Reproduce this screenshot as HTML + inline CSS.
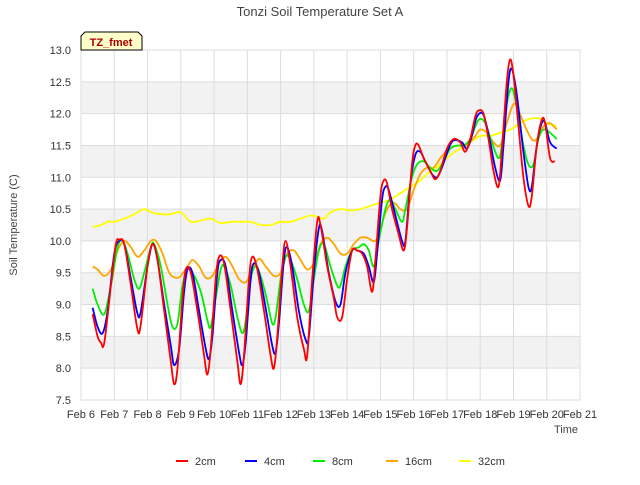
<!DOCTYPE html>
<html><head><meta charset="utf-8"><style>
body{margin:0;background:#fff;font-family:"Liberation Sans",sans-serif}
</style></head><body>
<svg id="c" width="640" height="480" xmlns="http://www.w3.org/2000/svg" font-family="Liberation Sans, sans-serif">
<text x="320" y="16" text-anchor="middle" font-size="13" fill="#444">Tonzi Soil Temperature Set A</text>
<g id="grid"></g><g id="axes"></g><g id="series"></g>
<text transform="translate(17,225) rotate(-90)" text-anchor="middle" font-size="11" fill="#444">Soil Temperature (C)</text>
<text x="578" y="433" text-anchor="end" font-size="11" fill="#444">Time</text>
<g><path d="M81,50 L81,36 L85,32 L138,32 L142,36 L142,50 Z" fill="#ffffcc" stroke="#000" stroke-width="1"/><text x="111" y="46" text-anchor="middle" font-size="11" font-weight="bold" fill="#a00">TZ_fmet</text></g>
<g id="legend"></g>
</svg>
<script>
const yTicks=[7.5,8.0,8.5,9.0,9.5,10.0,10.5,11.0,11.5,12.0,12.5,13.0];
const xTickLabels=["Feb 6","Feb 7","Feb 8","Feb 9","Feb 10","Feb 11","Feb 12","Feb 13","Feb 14","Feb 15","Feb 16","Feb 17","Feb 18","Feb 19","Feb 20","Feb 21"];
const seriesNames=["2cm","4cm","8cm","16cm","32cm"];
const t2=[6.35,6.5,6.6,6.7,6.9,7.05,7.15,7.3,7.5,7.7,7.8,8.0,8.15,8.3,8.5,8.7,8.8,8.9,9.05,9.15,9.3,9.5,9.7,9.8,9.9,10.05,10.15,10.3,10.5,10.7,10.8,10.9,11.05,11.15,11.3,11.5,11.7,11.8,11.9,12.05,12.15,12.3,12.5,12.7,12.8,12.95,13.1,13.2,13.4,13.6,13.7,13.85,14.0,14.15,14.3,14.45,14.6,14.75,14.85,15.0,15.1,15.2,15.35,15.55,15.7,15.8,15.95,16.05,16.15,16.3,16.5,16.65,16.8,17.0,17.2,17.4,17.55,17.7,17.85,17.95,18.1,18.25,18.4,18.55,18.65,18.8,18.9,19.0,19.15,19.3,19.45,19.55,19.7,19.85,19.95,20.1,20.25];
const v2=[8.85,8.5,8.4,8.4,9.3,9.95,10.02,9.95,9.3,8.6,8.7,9.6,9.95,9.7,8.9,8.1,7.75,8.0,9.1,9.55,9.5,8.9,8.2,7.9,8.3,9.4,9.75,9.65,8.9,8.1,7.75,8.2,9.4,9.75,9.55,8.9,8.2,8.0,8.5,9.6,10.0,9.6,8.8,8.3,8.2,9.4,10.3,10.25,9.6,9.1,8.8,8.8,9.4,9.85,9.85,9.8,9.6,9.2,9.7,10.7,10.95,10.9,10.5,10.1,9.85,10.2,11.2,11.5,11.5,11.3,11.1,10.97,11.1,11.45,11.6,11.55,11.4,11.6,11.95,12.05,12.0,11.6,11.1,10.85,11.4,12.5,12.85,12.6,11.8,11.0,10.55,10.7,11.5,11.9,11.85,11.3,11.25];
const t4=[6.35,6.5,6.65,6.8,7.0,7.15,7.3,7.5,7.7,7.8,8.0,8.15,8.3,8.5,8.7,8.8,8.95,9.1,9.2,9.35,9.55,9.75,9.85,9.95,10.1,10.2,10.35,10.55,10.75,10.85,10.95,11.1,11.2,11.35,11.55,11.75,11.85,11.95,12.1,12.2,12.35,12.55,12.75,12.85,13.0,13.15,13.25,13.45,13.65,13.8,13.95,14.15,14.3,14.5,14.65,14.8,14.9,15.05,15.15,15.25,15.45,15.65,15.75,15.9,16.05,16.2,16.35,16.55,16.7,16.85,17.05,17.2,17.45,17.6,17.75,17.9,18.1,18.3,18.45,18.6,18.7,18.85,18.95,19.1,19.3,19.45,19.55,19.7,19.85,19.95,20.1,20.3];
const v4=[8.95,8.65,8.55,8.9,9.8,10.0,9.95,9.4,8.85,8.9,9.6,9.95,9.7,9.0,8.35,8.05,8.3,9.2,9.55,9.5,8.9,8.3,8.15,8.5,9.5,9.7,9.6,8.9,8.25,8.05,8.4,9.4,9.65,9.5,8.95,8.35,8.25,8.7,9.7,9.9,9.6,8.9,8.45,8.5,9.5,10.2,10.15,9.5,9.05,9.0,9.5,9.85,9.85,9.8,9.6,9.35,9.8,10.65,10.85,10.8,10.4,10.0,10.0,10.9,11.35,11.4,11.25,11.05,11.0,11.15,11.45,11.58,11.55,11.45,11.65,11.95,11.98,11.55,11.15,10.95,11.5,12.5,12.7,12.3,11.4,10.85,10.85,11.5,11.85,11.85,11.55,11.45];
const t8=[6.35,6.5,6.7,6.9,7.1,7.25,7.4,7.6,7.75,7.9,8.1,8.2,8.4,8.6,8.75,8.9,9.05,9.2,9.35,9.6,9.8,9.9,10.05,10.2,10.3,10.5,10.7,10.85,10.95,11.1,11.25,11.4,11.6,11.75,11.85,12.0,12.15,12.3,12.5,12.7,12.85,13.0,13.15,13.3,13.5,13.7,13.8,13.95,14.15,14.35,14.5,14.65,14.8,14.95,15.15,15.3,15.45,15.65,15.75,15.95,16.1,16.3,16.5,16.7,16.9,17.1,17.3,17.5,17.7,17.95,18.15,18.35,18.55,18.65,18.8,18.95,19.1,19.3,19.45,19.6,19.75,19.9,20.1,20.3];
const v8=[9.25,9.0,8.85,9.3,9.9,10.0,9.8,9.4,9.25,9.5,9.9,9.95,9.6,9.0,8.65,8.7,9.3,9.55,9.5,9.2,8.75,8.65,9.1,9.55,9.6,9.3,8.8,8.55,8.75,9.4,9.6,9.45,9.05,8.7,8.8,9.4,9.75,9.7,9.4,9.0,8.9,9.4,9.85,9.95,9.6,9.3,9.3,9.6,9.85,9.9,9.95,9.85,9.6,10.0,10.5,10.65,10.5,10.3,10.5,11.0,11.2,11.25,11.15,11.1,11.25,11.45,11.5,11.5,11.6,11.9,11.85,11.55,11.3,11.5,12.15,12.4,12.1,11.5,11.2,11.2,11.6,11.75,11.7,11.6];
const t16=[6.35,6.5,6.7,6.9,7.1,7.3,7.5,7.7,7.9,8.1,8.25,8.45,8.65,8.85,9.0,9.2,9.35,9.55,9.75,9.95,10.15,10.35,10.55,10.75,10.95,11.15,11.35,11.55,11.8,12.0,12.2,12.4,12.6,12.8,13.0,13.2,13.4,13.6,13.8,14.0,14.2,14.4,14.6,14.85,15.0,15.2,15.4,15.6,15.8,16.0,16.2,16.4,16.6,16.8,17.0,17.2,17.4,17.6,17.85,18.0,18.2,18.4,18.6,18.8,19.0,19.15,19.35,19.55,19.7,19.9,20.1,20.3];
const v16=[9.6,9.55,9.45,9.55,9.85,10.0,9.9,9.75,9.85,10.0,10.0,9.8,9.5,9.42,9.45,9.6,9.7,9.6,9.42,9.45,9.65,9.75,9.6,9.4,9.35,9.55,9.72,9.6,9.45,9.5,9.8,9.85,9.7,9.55,9.65,9.95,10.05,9.95,9.8,9.8,9.95,10.05,10.05,10.0,10.2,10.5,10.6,10.5,10.5,10.8,11.05,11.15,11.15,11.3,11.42,11.48,11.5,11.5,11.65,11.75,11.7,11.55,11.5,11.85,12.15,12.05,11.8,11.6,11.6,11.8,11.85,11.75];
const t32=[6.35,6.6,6.8,7.0,7.3,7.6,7.9,8.1,8.4,8.7,9.0,9.3,9.6,9.9,10.2,10.5,10.8,11.1,11.4,11.7,12.0,12.3,12.6,12.9,13.1,13.3,13.5,13.8,14.1,14.4,14.7,15.0,15.3,15.6,15.9,16.2,16.5,16.8,17.1,17.4,17.7,18.0,18.3,18.6,18.9,19.2,19.5,19.8,20.0,20.3];
const v32=[10.22,10.25,10.3,10.3,10.35,10.42,10.5,10.45,10.42,10.42,10.45,10.3,10.32,10.35,10.28,10.3,10.3,10.3,10.25,10.25,10.3,10.3,10.35,10.4,10.38,10.35,10.45,10.5,10.48,10.5,10.55,10.6,10.65,10.75,10.85,10.95,11.1,11.2,11.35,11.45,11.55,11.65,11.65,11.7,11.75,11.85,11.92,11.92,11.85,11.8];
const colors=["#ff0000","#0000ff","#00ee00","#ffa500","#ffff00"];
const T=[t2,t4,t8,t16,t32],V=[v2,v4,v8,v16,v32];
const L=81,R=580,TOP=50,BOT=400,X0=6,X1=21,Y0=7.5,Y1=13;
const xs=d=>L+(d-X0)/(X1-X0)*(R-L);
const ys=v=>BOT-(v-Y0)/(Y1-Y0)*(BOT-TOP);
const NS="http://www.w3.org/2000/svg";
function mk(tag,attrs,parent){const e=document.createElementNS(NS,tag);for(const k in attrs)e.setAttribute(k,attrs[k]);parent.appendChild(e);return e;}
const grid=document.getElementById('grid'),axes=document.getElementById('axes'),ser=document.getElementById('series'),leg=document.getElementById('legend');
const bg=mk('rect',{x:L,y:TOP,width:R-L,height:BOT-TOP,fill:'#fff',stroke:'#ccc'},grid);


for(let i=0;i<yTicks.length-1;i++){
  const a=yTicks[i];
  if(Math.round(a*2)%2===0){const b=mk('rect',{x:L,y:ys(yTicks[i+1]),width:R-L,height:ys(a)-ys(yTicks[i+1]),fill:'#f2f2f2'},grid);
  
  }
}
yTicks.forEach(v=>{
  const g=mk('line',{x1:L,x2:R,y1:ys(v),y2:ys(v),stroke:'#ddd'},grid);
  
  
  const t=mk('text',{x:L-10,y:ys(v)+4,'text-anchor':'end','font-size':'11',fill:'#333'},axes);
  t.textContent=v.toFixed(1);
  
  
});
xTickLabels.forEach((s,i)=>{
  const x=xs(X0+i);
  const g=mk('line',{x1:x,x2:x,y1:TOP,y2:BOT,stroke:'#ddd'},grid);
  
  
  const t=mk('text',{x:x,y:BOT+18,'text-anchor':'middle','font-size':'11',fill:'#333'},axes);
  t.textContent=s;
  
  
});
function smooth(P){
  let d='M'+P[0][0].toFixed(1)+','+P[0][1].toFixed(1);
  for(let i=0;i<P.length-1;i++){
    const p0=P[Math.max(0,i-1)],p1=P[i],p2=P[i+1],p3=P[Math.min(P.length-1,i+2)];
    const c1x=p1[0]+(p2[0]-p0[0])/6,c1y=p1[1]+(p2[1]-p0[1])/6;
    const c2x=p2[0]-(p3[0]-p1[0])/6,c2y=p2[1]-(p3[1]-p1[1])/6;
    d+=' C'+c1x.toFixed(1)+','+c1y.toFixed(1)+' '+c2x.toFixed(1)+','+c2y.toFixed(1)+' '+p2[0].toFixed(1)+','+p2[1].toFixed(1);
  }
  return d;
}
[4,3,2,1,0].forEach(k=>{
  const P=T[k].map((t,i)=>[xs(t),ys(V[k][i])]);
  const p=mk('path',{d:smooth(P),fill:'none',stroke:colors[k],'stroke-width':'1.8','stroke-linejoin':'round'},ser);
  
  
});
const lx=[176,245,313,386,459];
seriesNames.forEach((n,i)=>{
  const g=mk('g',{},leg);
  
  
  mk('line',{x1:lx[i],x2:lx[i]+12,y1:461,y2:461,stroke:colors[i],'stroke-width':'2'},g);
  const t=mk('text',{x:lx[i]+19,y:465,'font-size':'11',fill:'#333'},g);
  t.textContent=n;
});
</script>
</body></html>
